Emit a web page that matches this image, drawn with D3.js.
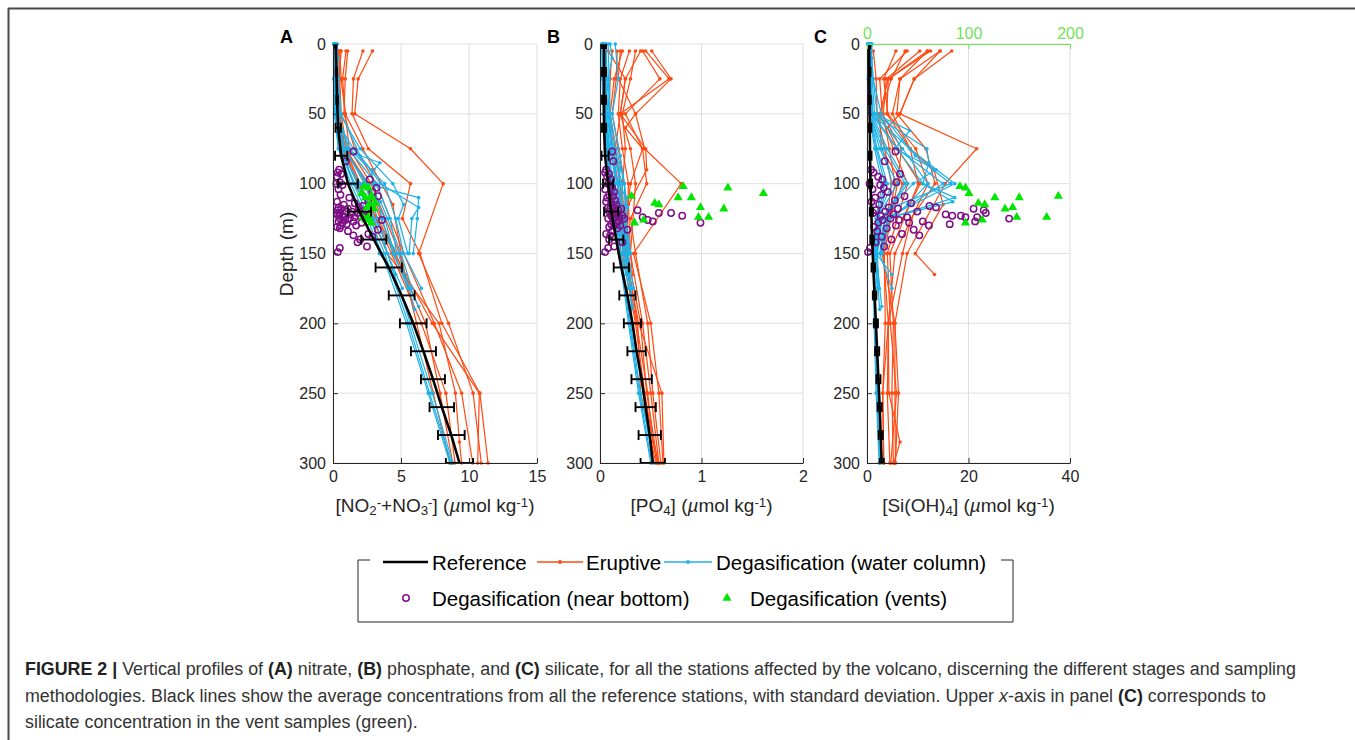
<!DOCTYPE html>
<html>
<head>
<meta charset="utf-8">
<script src="https://cdn.jsdelivr.net/npm/d3@7"></script>
<style>
  html, body { margin: 0; padding: 0; background: #fff; }
  svg { display: block; font-family: "Liberation Sans", Arial, Helvetica, sans-serif; }
</style>
</head>
<body>
<svg id="fig" width="1355" height="740"></svg>
<script>
// ---------- axis ticks ----------
const depthTicks = [0, 50, 100, 150, 200, 250, 300];
const no3Ticks = [0, 5, 10, 15];
const po4Ticks = [0, 1, 2];
const siTicks = [0, 20, 40];
const siVentTicks = [0, 100, 200];

// ---------- reference stations: mean and standard deviation every 20 m ----------
const refDepth = [0, 20, 40, 60, 80, 100, 120, 140, 160, 180, 200, 220, 240, 260, 280, 300];
const refNO3   = [0.2, 0.25, 0.3, 0.38, 0.6, 1.1, 1.95, 3.0, 4.1, 5.05, 5.9, 6.65, 7.35, 8.0, 8.7, 9.3];
const refNO3Sd = [0.05, 0.05, 0.06, 0.2, 0.45, 0.72, 0.85, 0.92, 0.97, 0.95, 0.98, 0.92, 0.88, 0.9, 0.98, 1.0];
const refPO4   = [0.04, 0.04, 0.04, 0.04, 0.05, 0.08, 0.11, 0.16, 0.21, 0.27, 0.32, 0.36, 0.41, 0.45, 0.49, 0.52];
const refPO4Sd = [0.02, 0.02, 0.02, 0.02, 0.035, 0.05, 0.07, 0.07, 0.075, 0.08, 0.085, 0.09, 0.1, 0.1, 0.11, 0.12];
const refSi    = [0.4, 0.45, 0.5, 0.55, 0.6, 0.7, 0.85, 1.0, 1.25, 1.5, 1.75, 2.0, 2.25, 2.5, 2.7, 2.9];
const refSiSd  = [0.25, 0.25, 0.25, 0.3, 0.3, 0.3, 0.3, 0.35, 0.35, 0.35, 0.4, 0.4, 0.4, 0.4, 0.4, 0.4];

// ---------- eruptive stage profiles ----------
const eruptiveDepth = [
  [5, 25, 50, 75, 100, 150, 200, 250, 300],
  [5, 25, 50, 75, 100, 125, 150, 200, 250, 300],
  [5, 25, 50, 75, 100, 150, 200, 250, 300],
  [5, 25, 50, 75, 100, 150, 200, 250, 300],
  [5, 25, 50, 75, 100, 150, 200, 250, 300],
  [5, 25, 50, 75, 100, 150, 200, 250, 300],
  [5, 25, 50, 75, 100, 150, 200, 250, 300],
  [5, 25, 50, 75, 100, 150, 200, 250, 285, 300],
  [5, 25, 50, 75, 90, 115, 150, 165],
  [5, 25, 50, 60, 75, 100, 125],
  [5, 25, 50, 75, 100, 125, 150]
];
const eruptiveNO3 = [
  [2.9, 1.85, 1.6, 5.7, 8.1, 6.3, 8.5, 10.3, 10.9],
  [2.2, 1.5, 1.4, 2.6, 5.7, 5.1, 6.4, 8.0, 10.8, 11.4],
  [1.08, 0.9, 0.8, 1.6, 3.2, 5.2, 7.45, 9.46, 10.27],
  [0.96, 0.7, 0.9, 1.2, 2.8, 4.9, 6.15, 7.37, 8.6],
  [0.5, 0.5, 0.6, 1.0, 2.4, 4.6, 6.8, 7.87, 8.8],
  [0.4, 0.35, 0.5, 0.9, 2.0, 4.3, 6.5, 8.3, 8.97],
  [0.6, 0.45, 0.4, 0.8, 1.9, 4.5, 7.3, 10.76, 10.64],
  [0.3, 0.3, 0.35, 0.7, 1.8, 4.0, 7.8, 9.0, 9.3, 9.46],
  [0.5, 0.6, 0.9, 2.2, 3.0, 4.4, 5.0, 5.3],
  [0.25, 0.3, 0.4, 0.5, 0.9, 2.6, 3.6],
  [0.35, 0.25, 0.3, 0.6, 1.5, 3.3, 4.6]
];
const eruptivePO4 = [
  [0.51, 0.70, 0.35, 0.44, 0.80, 0.33, 0.50, 0.58, 0.62],
  [0.42, 0.59, 0.25, 0.42, 0.46, 0.30, 0.35, 0.47, 0.52, 0.60],
  [0.40, 0.25, 0.20, 0.30, 0.35, 0.30, 0.42, 0.50, 0.58],
  [0.29, 0.20, 0.18, 0.22, 0.28, 0.26, 0.37, 0.40, 0.55],
  [0.17, 0.16, 0.12, 0.18, 0.24, 0.27, 0.40, 0.46, 0.57],
  [0.22, 0.14, 0.10, 0.15, 0.20, 0.22, 0.35, 0.44, 0.56],
  [0.35, 0.30, 0.22, 0.25, 0.22, 0.25, 0.38, 0.61, 0.63],
  [0.12, 0.10, 0.09, 0.12, 0.18, 0.24, 0.36, 0.47, 0.52, 0.58],
  [0.45, 0.68, 0.20, 0.45, 0.46, 0.28, 0.30, 0.32],
  [0.20, 0.18, 0.35, 0.25, 0.42, 0.30, 0.26],
  [0.08, 0.25, 0.20, 0.15, 0.20, 0.24, 0.30]
];
const eruptiveSi = [
  [16.7, 9.3, 6.5, 21.6, 15.4, 7.9, 5.5, 6.2, 5.6],
  [14.4, 6.5, 5.9, 11.6, 13.4, 8.7, 7.0, 4.2, 3.1, 3.3],
  [12.5, 4.2, 3.9, 8.5, 10.1, 4.5, 5.2, 4.9, 5.2],
  [7.9, 2.5, 3.0, 6.8, 6.0, 3.4, 3.6, 3.1, 3.3],
  [7.5, 4.8, 2.6, 5.2, 8.0, 4.0, 4.6, 5.8, 4.7],
  [5.7, 3.3, 4.1, 9.6, 12.0, 5.5, 4.2, 4.0, 4.5],
  [10.4, 3.8, 3.2, 4.4, 5.5, 3.0, 5.5, 5.5, 5.6],
  [1.25, 1.8, 2.0, 3.5, 4.8, 3.2, 4.2, 4.3, 6.5, 5.3],
  [11.9, 6.5, 5.0, 8.5, 13.2, 15.0, 9.5, 13.3],
  [14.4, 9.3, 6.5, 4.0, 6.0, 10.5, 7.0],
  [11.9, 4.2, 2.5, 2.8, 7.0, 4.5, 3.0]
];

// ---------- degasification stage, water column profiles ----------
const degasDepth = [
  [0, 25, 50, 75, 100, 125, 150, 175],
  [0, 25, 50, 75, 100, 110, 125, 150],
  [0, 25, 50, 75, 85, 100, 113, 125, 150, 175],
  [0, 25, 50, 62, 75, 90, 100, 125, 150, 188],
  [0, 25, 50, 75, 100, 125, 150, 175, 190],
  [0, 10, 25, 50, 75, 100, 115, 125, 150],
  [0, 25, 50, 75, 100, 125, 150, 175],
  [0, 25, 50, 75, 100, 120, 150, 165],
  [0, 25, 50, 75, 100, 125, 150],
  [0, 25, 50, 75, 100, 125, 150, 175],
  [0, 25, 50, 80, 100, 117, 125, 150],
  [0, 25, 50, 75, 100, 125, 150, 200, 250, 300],
  [0, 25, 50, 75, 100, 125, 150, 200, 250, 300],
  [0, 25, 50, 75, 100, 125, 150, 200, 250, 300]
];
const degasNO3 = [
  [0.10, 0.15, 0.30, 1.20, 3.80, 4.60, 5.20, 6.50],
  [0.05, 0.10, 0.20, 0.80, 2.50, 6.30, 6.20, 5.90],
  [0.10, 0.10, 0.15, 0.60, 3.45, 2.20, 3.50, 4.00, 5.00, 5.80],
  [0.20, 0.25, 0.40, 0.70, 1.50, 2.80, 3.00, 3.60, 4.40, 6.30],
  [0.05, 0.05, 0.10, 0.40, 2.00, 3.00, 4.80, 5.60, 6.00],
  [0.30, 0.35, 0.30, 0.50, 2.00, 4.40, 5.20, 4.80, 5.50],
  [0.15, 0.20, 0.25, 0.90, 2.30, 3.30, 4.00, 5.10],
  [0.05, 0.10, 0.15, 0.50, 1.60, 2.80, 3.40, 4.60],
  [0.25, 0.30, 0.35, 1.10, 3.20, 4.20, 4.70],
  [0.10, 0.10, 0.20, 0.70, 2.60, 3.80, 4.50, 5.50],
  [0.30, 0.40, 0.60, 2.00, 3.50, 6.30, 5.80, 5.60],
  [0.05, 0.08, 0.15, 0.40, 1.30, 2.50, 3.60, 5.40, 7.00, 8.60],
  [0.10, 0.10, 0.20, 0.60, 1.80, 3.00, 4.00, 5.70, 7.30, 8.80],
  [0.08, 0.12, 0.18, 0.50, 1.50, 2.70, 3.80, 5.55, 7.10, 8.70]
];
const degasPO4 = [
  [0.03, 0.05, 0.08, 0.12, 0.22, 0.22, 0.28, 0.33],
  [0.02, 0.03, 0.05, 0.10, 0.18, 0.26, 0.24, 0.30],
  [0.04, 0.04, 0.06, 0.09, 0.16, 0.14, 0.18, 0.20, 0.25, 0.30],
  [0.06, 0.07, 0.09, 0.10, 0.14, 0.20, 0.18, 0.22, 0.27, 0.32],
  [0.02, 0.02, 0.03, 0.06, 0.12, 0.17, 0.24, 0.30, 0.31],
  [0.10, 0.12, 0.08, 0.10, 0.16, 0.24, 0.25, 0.24, 0.28],
  [0.05, 0.06, 0.07, 0.11, 0.15, 0.19, 0.23, 0.28],
  [0.03, 0.03, 0.05, 0.08, 0.13, 0.18, 0.20, 0.26],
  [0.08, 0.09, 0.10, 0.13, 0.20, 0.23, 0.29],
  [0.04, 0.05, 0.06, 0.09, 0.17, 0.21, 0.26, 0.31],
  [0.15, 0.18, 0.12, 0.20, 0.24, 0.27, 0.26, 0.30],
  [0.02, 0.03, 0.04, 0.06, 0.10, 0.14, 0.19, 0.28, 0.38, 0.50],
  [0.03, 0.04, 0.05, 0.08, 0.12, 0.16, 0.21, 0.30, 0.40, 0.53],
  [0.02, 0.03, 0.05, 0.07, 0.11, 0.15, 0.20, 0.29, 0.39, 0.51]
];
const degasSi = [
  [0.3, 0.5, 1.0, 8.4, 17.3, 3.5, 2.5, 4.9],
  [0.2, 0.4, 0.8, 5.9, 11.0, 17.3, 4.0, 2.8],
  [0.4, 0.6, 1.2, 11.8, 12.2, 11.0, 16.9, 3.5, 2.0, 2.4],
  [0.8, 1.0, 1.5, 8.4, 5.5, 13.6, 9.1, 2.6, 1.8, 2.9],
  [0.1, 0.3, 0.6, 2.5, 6.0, 2.0, 1.5, 2.2, 2.5],
  [1.0, 0.9, 1.2, 2.0, 7.0, 12.0, 8.0, 4.5, 3.0],
  [0.5, 0.7, 0.9, 4.0, 8.0, 3.0, 1.6, 2.0],
  [0.2, 0.3, 0.5, 3.0, 5.0, 2.5, 1.8, 4.9],
  [0.6, 0.8, 1.1, 6.0, 15.0, 4.2, 2.6],
  [0.3, 0.4, 0.7, 3.5, 7.5, 3.0, 1.9, 2.3],
  [0.8, 1.2, 2.8, 9.5, 16.5, 5.0, 3.5, 2.8],
  [0.2, 0.3, 0.5, 1.5, 3.0, 1.8, 1.2, 1.4, 1.8, 2.4],
  [0.3, 0.4, 0.6, 2.0, 4.0, 2.2, 1.5, 1.7, 2.2, 2.7],
  [0.2, 0.3, 0.4, 1.8, 3.5, 2.0, 1.3, 1.55, 2.0, 2.5]
];

// ---------- degasification stage, samples near the bottom ----------
const bottomDepth = [77, 84, 90, 92, 93, 95, 97, 99, 100, 101,
  103, 104, 106, 108, 109, 110, 112, 113, 114, 115,
  116, 117, 117, 118, 118, 119, 119, 120, 120, 121,
  121, 122, 122, 123, 123, 123, 124, 124, 124, 125,
  125, 126, 126, 127, 127, 128, 128, 129, 130, 130,
  131, 132, 133, 134, 136, 137, 138, 140, 142, 145,
  146, 149];
const bottomNO3 = [1.5, 0.95, 0.45, 0.35, 0.6, 0.3, 2.7, 0.5, 0.25, 0.7,
  3.2, 0.4, 2.9, 0.55, 3.3, 1.2, 2.6, 0.3, 1.6, 0.8,
  2.2, 0.4, 1.9, 1.1, 0.6, 2.4, 0.35, 1.4, 0.9, 0.5,
  1.8, 0.3, 1.3, 0.7, 2.0, 0.45, 1.6, 0.8, 2.3, 0.5,
  1.2, 0.9, 3.6, 0.4, 1.5, 0.7, 2.1, 1.0, 0.55, 1.7,
  0.3, 0.5, 3.3, 1.1, 2.6, 1.5, 2.9, 2.0, 1.8, 2.5,
  0.5, 0.35];
const bottomPO4 = [0.12, 0.13, 0.06, 0.05, 0.09, 0.07, 0.11, 0.06, 0.08, 0.10,
  0.12, 0.05, 0.14, 0.09, 0.13, 0.07, 0.15, 0.06, 0.11, 0.16,
  0.12, 0.08, 0.14, 0.21, 0.10, 0.18, 0.37, 0.14, 0.09, 0.70,
  0.58, 0.12, 0.17, 0.22, 0.11, 0.81, 0.15, 0.19, 0.42, 0.08,
  0.24, 0.13, 0.47, 0.52, 0.18, 0.99, 0.16, 0.11, 0.20, 0.14,
  0.09, 0.17, 0.27, 0.12, 0.06, 0.10, 0.13, 0.09, 0.22, 0.14,
  0.08, 0.05];
const bottomSi = [5.6, 3.5, 0.8, 1.3, 6.5, 2.2, 3.0, 5.8, 0.5, 2.6,
  3.3, 1.1, 4.1, 2.8, 7.4, 1.6, 5.5, 0.9, 8.7, 2.4,
  12.3, 13.6, 4.3, 21.0, 6.1, 23.0, 1.8, 3.6, 9.9, 23.4,
  1.2, 15.5, 5.2, 16.8, 2.7, 18.5, 7.9, 19.4, 21.7, 4.6,
  28.0, 3.1, 6.3, 21.3, 11.0, 2.2, 8.3, 16.3, 12.2, 5.7,
  1.4, 3.9, 9.2, 2.0, 6.9, 10.3, 2.9, 4.8, 1.7, 3.4,
  0.6, 0.2];

// ---------- degasification stage, vent samples (Si read on the upper axis) ----------
const ventDepth = [102, 103, 107, 110, 110, 109, 114, 115, 117, 118, 124, 124, 128, 126];
const ventNO3 = [2.3, 2.6, 2.1, 2.9, 2.4, 2.8, 3.1, 2.7, 2.5, 3.0, 2.2, 2.6, 2.8, 2.4];
const ventPO4 = [0.82, 1.26, 1.61, 0.77, 0.90, 0.31, 0.54, 0.58, 0.99, 1.22, 0.97, 1.07, 0.34, 0.43];
const ventSi = [91.6, 97, 100.5, 126, 150, 188.5, 109.7, 116, 143.5, 136, 147.5, 177, 97, 113.6];

// ---------- drawing ----------
const COL = {
  eruptive: "#ff4a12",
  degas: "#1cb2ea",
  bottom: "#7f0f86",
  vent: "#00e600",
  ref: "#000000",
  axis: "#262626",
  grid: "#dfdfdf",
  top: "#72e05a"
};
const svg = d3.select("#fig");
const plotTop = 44, plotBottom = 463;
const y = d3.scaleLinear().domain([0, 300]).range([plotTop, plotBottom]);

// outer figure frame (top and left edges)
svg.append("line").attr("x1", 8).attr("x2", 1355).attr("y1", 8.5).attr("y2", 8.5)
  .attr("stroke", "#4a4a4a").attr("stroke-width", 2);
svg.append("line").attr("x1", 8.5).attr("x2", 8.5).attr("y1", 8).attr("y2", 740)
  .attr("stroke", "#4a4a4a").attr("stroke-width", 2);

const panels = [
  { id: "A", left: 333, width: 204, domain: [0, 15], ticks: no3Ticks,
    ref: refNO3, sd: refNO3Sd, eru: eruptiveNO3, deg: degasNO3, bot: bottomNO3, vent: ventNO3 },
  { id: "B", left: 600, width: 203, domain: [0, 2], ticks: po4Ticks,
    ref: refPO4, sd: refPO4Sd, eru: eruptivePO4, deg: degasPO4, bot: bottomPO4, vent: ventPO4 },
  { id: "C", left: 867, width: 203, domain: [0, 40], ticks: siTicks,
    ref: refSi, sd: refSiSd, eru: eruptiveSi, deg: degasSi, bot: bottomSi, vent: ventSi,
    topDomain: [0, 200], topTicks: siVentTicks }
];

const triangle = d3.symbol().type(d3.symbolTriangle).size(36);

panels.forEach(p => {
  const x = d3.scaleLinear().domain(p.domain).range([p.left, p.left + p.width]);
  const xTop = p.topDomain ? d3.scaleLinear().domain(p.topDomain).range([p.left, p.left + p.width]) : null;
  const g = svg.append("g");

  const clipId = "clip" + p.id;
  svg.append("clipPath").attr("id", clipId).append("rect")
    .attr("x", p.left).attr("y", plotTop).attr("width", p.width).attr("height", plotBottom - plotTop);

  // grid
  g.append("g").selectAll("line").data(p.ticks).join("line")
    .attr("x1", d => x(d)).attr("x2", d => x(d)).attr("y1", plotTop).attr("y2", plotBottom)
    .attr("stroke", COL.grid).attr("stroke-width", 1);
  g.append("g").selectAll("line").data(depthTicks).join("line")
    .attr("x1", p.left).attr("x2", p.left + p.width).attr("y1", d => y(d)).attr("y2", d => y(d))
    .attr("stroke", COL.grid).attr("stroke-width", 1);

  const line = d3.line().x(d => x(d.v)).y(d => y(d.z));

  function profiles(depths, values, color) {
    const gg = g.append("g");
    depths.forEach((dz, i) => {
      const pts = dz.map((z, j) => ({ z: z, v: values[i][j] }));
      gg.append("path").attr("d", line(pts)).attr("fill", "none")
        .attr("stroke", color).attr("stroke-width", 1.2).attr("stroke-linejoin", "round");
      gg.append("g").selectAll("circle").data(pts).join("circle")
        .attr("cx", d => x(d.v)).attr("cy", d => y(d.z)).attr("r", 1.8).attr("fill", color);
    });
  }
  profiles(eruptiveDepth, p.eru, COL.eruptive);
  profiles(degasDepth, p.deg, COL.degas);

  // near-bottom samples
  g.append("g").selectAll("circle").data(bottomDepth.map((z, i) => ({ z: z, v: p.bot[i] }))).join("circle")
    .attr("cx", d => x(d.v)).attr("cy", d => y(d.z)).attr("r", 3.2)
    .attr("fill", "none").attr("stroke", COL.bottom).attr("stroke-width", 1.5);

  // vents
  const xv = xTop || x;
  g.append("g").selectAll("path").data(ventDepth.map((z, i) => ({ z: z, v: p.vent[i] }))).join("path")
    .attr("d", triangle).attr("transform", d => `translate(${xv(d.v)},${y(d.z)})`)
    .attr("fill", COL.vent);

  // reference mean with standard deviation
  const refPts = refDepth.map((z, i) => ({ z: z, v: p.ref[i], s: p.sd[i] }));
  g.append("path").attr("d", line(refPts)).attr("fill", "none")
    .attr("stroke", COL.ref).attr("stroke-width", 2.6);
  const eb = g.append("g").attr("clip-path", `url(#${clipId})`)
    .attr("stroke", COL.ref).attr("stroke-width", 1.9);
  refPts.forEach(d => {
    const x0 = x(d.v - d.s), x1 = x(d.v + d.s), yy = y(d.z);
    eb.append("line").attr("x1", x0).attr("x2", x1).attr("y1", yy).attr("y2", yy);
    eb.append("line").attr("x1", x0).attr("x2", x0).attr("y1", yy - 5).attr("y2", yy + 5);
    eb.append("line").attr("x1", x1).attr("x2", x1).attr("y1", yy - 5).attr("y2", yy + 5);
  });

  // axes
  const ax = g.append("g").attr("transform", `translate(0,${plotBottom})`)
    .call(d3.axisBottom(x).tickValues(p.ticks).tickFormat(d3.format("d")).tickSize(-5).tickSizeOuter(0).tickPadding(8));
  const ay = g.append("g").attr("transform", `translate(${p.left},0)`)
    .call(d3.axisLeft(y).tickValues(depthTicks).tickSize(-5).tickSizeOuter(0).tickPadding(7));
  [ax, ay].forEach(a => {
    a.select(".domain").attr("stroke", COL.axis).attr("stroke-width", 1);
    a.selectAll(".tick line").attr("stroke", COL.axis);
    a.selectAll("text").attr("fill", COL.axis).style("font-size", "16px").style("font-family", "Liberation Sans, Arial, sans-serif");
  });

  if (xTop) {
    const at = g.append("g").attr("transform", `translate(0,${plotTop})`)
      .call(d3.axisTop(xTop).tickValues(p.topTicks).tickSize(-5).tickSizeOuter(0).tickPadding(5));
    at.select(".domain").attr("stroke", COL.top).attr("stroke-width", 1.2);
    at.selectAll(".tick line").attr("stroke", COL.top);
    at.selectAll("text").attr("fill", COL.top).style("font-size", "16px").style("font-family", "Liberation Sans, Arial, sans-serif");
  }

  // panel letter
  svg.append("text").attr("x", p.left - 53).attr("y", 43).text(p.id)
    .attr("font-weight", "bold").attr("font-size", 18).attr("fill", "#000");
});

// ---------- axis titles ----------
const titleSize = 19;
function axisTitle(cx, parts) {
  const t = svg.append("text").attr("x", cx).attr("y", 512).attr("text-anchor", "middle")
    .attr("font-size", titleSize).attr("fill", COL.axis);
  parts.forEach(pt => {
    const ts = t.append("tspan").text(pt.t);
    if (pt.sub) ts.attr("font-size", titleSize * 0.7).attr("baseline-shift", "-22%");
    if (pt.sup) ts.attr("font-size", titleSize * 0.7).attr("baseline-shift", "40%");
    if (pt.it) ts.attr("font-style", "italic");
  });
}
const unitParts = [{ t: " (" }, { t: "\u00b5", it: true }, { t: "mol kg" }, { t: "-1", sup: true }, { t: ")" }];
axisTitle(435, [{ t: "[NO" }, { t: "2", sub: true }, { t: "-", sup: true }, { t: "+NO" }, { t: "3", sub: true }, { t: "-", sup: true }, { t: "]" }].concat(unitParts));
axisTitle(701.5, [{ t: "[PO" }, { t: "4", sub: true }, { t: "]" }].concat(unitParts));
axisTitle(968.5, [{ t: "[Si(OH)" }, { t: "4", sub: true }, { t: "]" }].concat(unitParts));

svg.append("text").attr("transform", "translate(293,254) rotate(-90)").attr("text-anchor", "middle")
  .attr("font-size", titleSize).attr("fill", COL.axis).text("Depth (m)");

// ---------- legend ----------
const lg = svg.append("g").attr("font-size", 20.5).attr("fill", "#000");
const boxL = 358, boxR = 1013, boxT = 560, boxB = 622;
lg.append("path").attr("fill", "none").attr("stroke", COL.axis).attr("stroke-width", 1)
  .attr("d", `M${boxL + 12},${boxT} H${boxL} V${boxB} H${boxR} V${boxT} H${boxR - 12}`);
const row1 = 562, row2 = 598;
lg.append("line").attr("x1", 383).attr("x2", 428).attr("y1", row1).attr("y2", row1)
  .attr("stroke", COL.ref).attr("stroke-width", 2.6);
lg.append("text").attr("x", 432).attr("y", row1 + 7.5).text("Reference");
lg.append("line").attr("x1", 537).attr("x2", 583).attr("y1", row1).attr("y2", row1)
  .attr("stroke", COL.eruptive).attr("stroke-width", 1.4);
lg.append("circle").attr("cx", 560).attr("cy", row1).attr("r", 1.9).attr("fill", COL.eruptive);
lg.append("text").attr("x", 586).attr("y", row1 + 7.5).text("Eruptive");
lg.append("line").attr("x1", 664).attr("x2", 712).attr("y1", row1).attr("y2", row1)
  .attr("stroke", COL.degas).attr("stroke-width", 1.4);
lg.append("circle").attr("cx", 688).attr("cy", row1).attr("r", 1.9).attr("fill", COL.degas);
lg.append("text").attr("x", 716).attr("y", row1 + 7.5).text("Degasification (water column)");
lg.append("circle").attr("cx", 406).attr("cy", row2).attr("r", 3.2)
  .attr("fill", "none").attr("stroke", COL.bottom).attr("stroke-width", 1.5);
lg.append("text").attr("x", 432).attr("y", row2 + 7.5).text("Degasification (near bottom)");
lg.append("path").attr("d", triangle).attr("transform", `translate(727,${row2})`).attr("fill", COL.vent);
lg.append("text").attr("x", 750).attr("y", row2 + 7.5).text("Degasification (vents)");

// ---------- caption ----------
const cap = svg.append("g").attr("font-size", 17.85).attr("fill", "#333");
const capLines = [
  [{ t: "FIGURE 2 | ", b: true }, { t: "Vertical profiles of " }, { t: "(A)", b: true }, { t: " nitrate, " },
   { t: "(B)", b: true }, { t: " phosphate, and " }, { t: "(C)", b: true },
   { t: " silicate, for all the stations affected by the volcano, discerning the different stages and sampling" }],
  [{ t: "methodologies. Black lines show the average concentrations from all the reference stations, with standard deviation. Upper " },
   { t: "x", i: true }, { t: "-axis in panel " }, { t: "(C)", b: true }, { t: " corresponds to" }],
  [{ t: "silicate concentration in the vent samples (green)." }]
];
const capBase = [675, 702, 728];
capLines.forEach((parts, k) => {
  const t = cap.append("text").attr("x", 25).attr("y", capBase[k]).attr("xml:space", "preserve");
  parts.forEach(pt => {
    const ts = t.append("tspan").text(pt.t);
    if (pt.b) ts.attr("font-weight", "bold").attr("fill", "#222");
    if (pt.i) ts.attr("font-style", "italic");
  });
});
</script>
</body>
</html>
